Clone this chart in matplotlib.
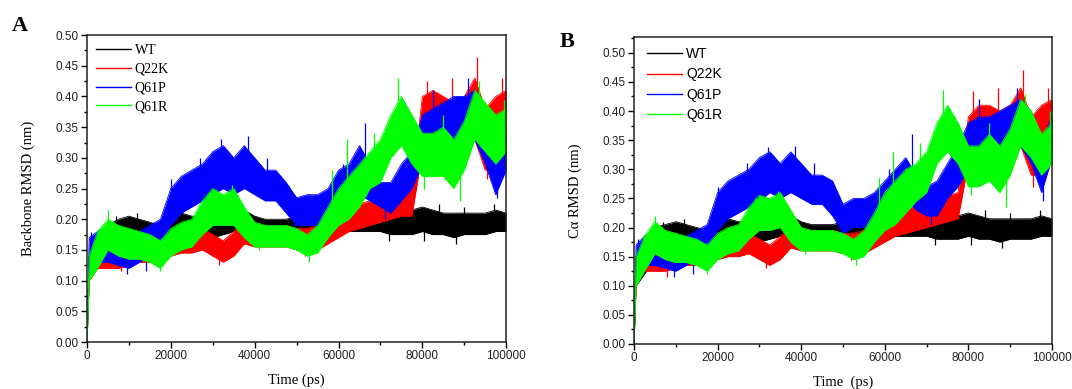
import matplotlib
matplotlib.use("Agg")
import matplotlib.pyplot as plt
import numpy as np
from matplotlib.ticker import MultipleLocator, FormatStrFormatter

# ---------------- data ----------------
time_ps = [0, 500] + list(range(2500, 100001, 2500))
series_names = ["WT", "Q22K", "Q61P", "Q61R"]
series_colors = ["#000000", "#ff0000", "#0000ff", "#00ff00"]

# Panel A: backbone RMSD band (low / high edge of the noisy trace), nm
wt_a_lo = [0, 0.10, 0.12, 0.14, 0.155, 0.155, 0.155, 0.155, 0.16, 0.165, 0.17, 0.165, 0.17, 0.17, 0.175, 0.18, 0.175, 0.17, 0.17, 0.165, 0.17, 0.17, 0.17, 0.175, 0.175, 0.18, 0.18, 0.18, 0.18, 0.18, 0.175, 0.175, 0.175, 0.18, 0.175, 0.175, 0.17, 0.175, 0.175, 0.175, 0.18, 0.18]
wt_a_hi = [0, 0.14, 0.17, 0.19, 0.20, 0.205, 0.20, 0.195, 0.19, 0.20, 0.21, 0.205, 0.205, 0.21, 0.21, 0.22, 0.215, 0.205, 0.20, 0.20, 0.20, 0.205, 0.20, 0.20, 0.205, 0.205, 0.21, 0.21, 0.21, 0.21, 0.21, 0.21, 0.215, 0.22, 0.215, 0.21, 0.21, 0.21, 0.21, 0.21, 0.215, 0.21]
q22k_a_lo = [0, 0.10, 0.12, 0.12, 0.12, 0.125, 0.13, 0.13, 0.135, 0.14, 0.145, 0.145, 0.15, 0.14, 0.13, 0.14, 0.16, 0.155, 0.155, 0.155, 0.155, 0.15, 0.15, 0.15, 0.16, 0.17, 0.18, 0.185, 0.19, 0.195, 0.20, 0.205, 0.205, 0.31, 0.32, 0.31, 0.30, 0.31, 0.33, 0.28, 0.28, 0.33]
q22k_a_hi = [0, 0.14, 0.17, 0.17, 0.165, 0.17, 0.175, 0.17, 0.17, 0.175, 0.18, 0.18, 0.185, 0.175, 0.165, 0.18, 0.20, 0.19, 0.19, 0.185, 0.19, 0.185, 0.185, 0.19, 0.205, 0.21, 0.22, 0.225, 0.23, 0.24, 0.245, 0.25, 0.25, 0.40, 0.41, 0.40, 0.39, 0.40, 0.43, 0.38, 0.40, 0.41]
q61p_a_lo = [0, 0.13, 0.13, 0.13, 0.125, 0.12, 0.13, 0.14, 0.16, 0.19, 0.21, 0.22, 0.23, 0.24, 0.25, 0.24, 0.25, 0.24, 0.23, 0.23, 0.21, 0.19, 0.19, 0.19, 0.19, 0.21, 0.23, 0.24, 0.23, 0.22, 0.21, 0.23, 0.25, 0.29, 0.30, 0.30, 0.32, 0.33, 0.33, 0.29, 0.24, 0.28]
q61p_a_hi = [0, 0.17, 0.18, 0.19, 0.18, 0.175, 0.18, 0.19, 0.20, 0.25, 0.27, 0.28, 0.29, 0.31, 0.32, 0.30, 0.32, 0.30, 0.28, 0.28, 0.26, 0.235, 0.24, 0.24, 0.25, 0.28, 0.29, 0.32, 0.29, 0.26, 0.26, 0.29, 0.31, 0.37, 0.38, 0.39, 0.40, 0.40, 0.41, 0.38, 0.32, 0.34]
q61r_a_lo = [0, 0.10, 0.12, 0.15, 0.14, 0.135, 0.135, 0.13, 0.12, 0.14, 0.15, 0.155, 0.175, 0.19, 0.19, 0.19, 0.17, 0.155, 0.155, 0.155, 0.155, 0.15, 0.14, 0.145, 0.17, 0.19, 0.20, 0.22, 0.25, 0.26, 0.30, 0.32, 0.29, 0.27, 0.27, 0.27, 0.25, 0.28, 0.33, 0.31, 0.29, 0.31]
q61r_a_hi = [0, 0.14, 0.18, 0.20, 0.19, 0.185, 0.18, 0.175, 0.165, 0.185, 0.195, 0.20, 0.23, 0.25, 0.24, 0.25, 0.22, 0.195, 0.19, 0.19, 0.19, 0.185, 0.175, 0.19, 0.22, 0.25, 0.27, 0.29, 0.31, 0.33, 0.37, 0.40, 0.37, 0.34, 0.34, 0.35, 0.33, 0.36, 0.41, 0.39, 0.37, 0.38]

# Panel B: C-alpha RMSD band, nm
wt_b_lo = [0, 0.10, 0.12, 0.145, 0.16, 0.16, 0.16, 0.16, 0.165, 0.17, 0.175, 0.17, 0.175, 0.175, 0.18, 0.185, 0.18, 0.175, 0.175, 0.17, 0.175, 0.175, 0.175, 0.18, 0.18, 0.185, 0.185, 0.185, 0.185, 0.185, 0.18, 0.18, 0.18, 0.185, 0.18, 0.18, 0.175, 0.18, 0.18, 0.18, 0.185, 0.185]
wt_b_hi = [0, 0.15, 0.17, 0.20, 0.205, 0.21, 0.205, 0.20, 0.195, 0.205, 0.215, 0.21, 0.21, 0.215, 0.215, 0.225, 0.22, 0.21, 0.205, 0.205, 0.205, 0.21, 0.205, 0.205, 0.21, 0.21, 0.215, 0.215, 0.215, 0.215, 0.215, 0.215, 0.22, 0.225, 0.22, 0.215, 0.215, 0.215, 0.215, 0.215, 0.22, 0.215]
q22k_b_lo = [0, 0.10, 0.125, 0.125, 0.125, 0.13, 0.135, 0.135, 0.14, 0.145, 0.15, 0.15, 0.155, 0.145, 0.135, 0.145, 0.165, 0.16, 0.16, 0.16, 0.16, 0.155, 0.155, 0.155, 0.165, 0.175, 0.185, 0.19, 0.195, 0.20, 0.205, 0.21, 0.215, 0.31, 0.32, 0.32, 0.31, 0.32, 0.34, 0.29, 0.29, 0.34]
q22k_b_hi = [0, 0.15, 0.175, 0.175, 0.17, 0.175, 0.18, 0.175, 0.175, 0.18, 0.185, 0.185, 0.19, 0.18, 0.17, 0.185, 0.205, 0.195, 0.195, 0.19, 0.195, 0.19, 0.19, 0.195, 0.21, 0.215, 0.225, 0.23, 0.24, 0.245, 0.25, 0.255, 0.26, 0.39, 0.41, 0.41, 0.40, 0.41, 0.44, 0.39, 0.41, 0.42]
q61p_b_lo = [0, 0.13, 0.135, 0.135, 0.13, 0.125, 0.135, 0.145, 0.165, 0.195, 0.215, 0.225, 0.235, 0.245, 0.26, 0.25, 0.26, 0.25, 0.24, 0.24, 0.22, 0.19, 0.20, 0.20, 0.20, 0.22, 0.24, 0.25, 0.23, 0.22, 0.22, 0.25, 0.27, 0.30, 0.31, 0.31, 0.32, 0.33, 0.34, 0.31, 0.26, 0.32]
q61p_b_hi = [0, 0.17, 0.185, 0.195, 0.185, 0.18, 0.185, 0.195, 0.205, 0.26, 0.28, 0.29, 0.30, 0.32, 0.33, 0.31, 0.33, 0.31, 0.29, 0.29, 0.28, 0.24, 0.25, 0.25, 0.26, 0.28, 0.30, 0.32, 0.29, 0.27, 0.28, 0.31, 0.34, 0.38, 0.39, 0.39, 0.40, 0.41, 0.42, 0.40, 0.35, 0.39]
q61r_b_lo = [0, 0.10, 0.125, 0.155, 0.145, 0.14, 0.14, 0.135, 0.125, 0.145, 0.155, 0.16, 0.18, 0.195, 0.195, 0.20, 0.175, 0.16, 0.16, 0.16, 0.16, 0.155, 0.145, 0.15, 0.175, 0.195, 0.205, 0.225, 0.245, 0.26, 0.31, 0.33, 0.31, 0.27, 0.27, 0.28, 0.26, 0.29, 0.34, 0.32, 0.29, 0.31]
q61r_b_hi = [0, 0.15, 0.185, 0.21, 0.195, 0.19, 0.185, 0.18, 0.17, 0.19, 0.20, 0.205, 0.235, 0.255, 0.25, 0.26, 0.23, 0.20, 0.195, 0.195, 0.195, 0.19, 0.18, 0.195, 0.225, 0.26, 0.28, 0.30, 0.31, 0.33, 0.38, 0.41, 0.38, 0.34, 0.34, 0.36, 0.34, 0.37, 0.42, 0.40, 0.36, 0.38]

# Isolated spikes (upward and downward excursions): (time ps, extreme value nm)
spikes_a = {
    "WT": [(7000, 0.205), (12000, 0.21), (21000, 0.215), (35000, 0.225), (60000, 0.21),
           (76000, 0.22), (84000, 0.225), (90000, 0.22), (97000, 0.225),
           (72000, 0.165), (80500, 0.165), (88000, 0.16)],
    "Q22K": [(4000, 0.18), (38000, 0.205), (68000, 0.24), (78500, 0.25), (81000, 0.425),
             (87000, 0.43), (93000, 0.465), (99000, 0.43),
             (8000, 0.115), (31500, 0.125), (52000, 0.14), (95500, 0.265)],
    "Q61P": [(1000, 0.18), (20000, 0.265), (27000, 0.30), (32000, 0.33), (38500, 0.335),
             (43000, 0.30), (61000, 0.29), (66400, 0.357), (82500, 0.41), (91000, 0.43),
             (9500, 0.11), (14000, 0.115), (49500, 0.18), (71000, 0.20), (97800, 0.235)],
    "Q61R": [(5000, 0.215), (29000, 0.245), (34500, 0.255), (58500, 0.28), (62000, 0.33),
             (68500, 0.34), (74200, 0.43), (85000, 0.37), (93500, 0.425), (99500, 0.395),
             (17500, 0.115), (41000, 0.15), (53000, 0.13), (80500, 0.25), (89000, 0.23)],
}
spikes_b = {
    "WT": [(7000, 0.21), (12000, 0.215), (21000, 0.22), (35000, 0.235), (60000, 0.215),
           (76000, 0.225), (84000, 0.23), (90000, 0.225), (97000, 0.23),
           (72000, 0.17), (80500, 0.17), (88000, 0.165)],
    "Q22K": [(4000, 0.185), (38000, 0.21), (68000, 0.245), (78500, 0.26), (81000, 0.435),
             (87000, 0.44), (93000, 0.47), (99000, 0.44),
             (8000, 0.115), (31500, 0.13), (52000, 0.145), (95500, 0.27)],
    "Q61P": [(1000, 0.18), (20000, 0.27), (27000, 0.31), (32000, 0.338), (38500, 0.34),
             (43000, 0.31), (61000, 0.30), (66400, 0.36), (82500, 0.42), (91500, 0.44),
             (9500, 0.115), (14000, 0.12), (49500, 0.185), (71000, 0.205), (97800, 0.245)],
    "Q61R": [(5000, 0.22), (29000, 0.25), (34500, 0.262), (58500, 0.285), (62000, 0.33),
             (68500, 0.345), (74000, 0.436), (85000, 0.38), (93500, 0.43), (99500, 0.40),
             (17500, 0.12), (41000, 0.155), (53000, 0.135), (80500, 0.255), (89000, 0.235)],
}

bands_a = [(wt_a_lo, wt_a_hi), (q22k_a_lo, q22k_a_hi), (q61p_a_lo, q61p_a_hi), (q61r_a_lo, q61r_a_hi)]
bands_b = [(wt_b_lo, wt_b_hi), (q22k_b_lo, q22k_b_hi), (q61p_b_lo, q61p_b_hi), (q61r_b_lo, q61r_b_hi)]

for lo, hi in bands_a + bands_b:
    assert len(lo) == len(time_ps) and len(hi) == len(time_ps)

x_ticks = [0, 20000, 40000, 60000, 80000, 100000]

# ---------------- figure ----------------
fig = plt.figure(figsize=(10.72, 3.89), dpi=100)
ax_a = fig.add_axes([0.0812, 0.1208, 0.391, 0.789])
ax_b = fig.add_axes([0.5914, 0.1157, 0.390, 0.789])

SERIF = "Liberation Serif"
SANS = "Liberation Sans"


def draw(ax, bands, spikes, ytop, ylabel, xlabel, legend_font, leg_anchor, leg_spacing):
    t = np.array(time_ps, dtype=float)
    for name, color, (lo, hi) in zip(series_names, series_colors, bands):
        lo = np.array(lo)
        hi = np.array(hi)
        ax.fill_between(t, lo, hi, color=color, linewidth=0, zorder=2)
        ax.plot(t, hi, color=color, lw=0.6, zorder=2)
        ax.plot(t, lo, color=color, lw=0.6, zorder=2)
        mid = (lo + hi) / 2
        for ts, peak in spikes[name]:
            ax.vlines(ts, np.interp(ts, t, mid), peak, color=color, lw=0.9, zorder=2)
        ax.plot([], [], color=color, lw=1.0, label=name)

    ax.set_xlim(0, 100000)
    ax.set_ylim(0, ytop)
    ax.set_xticks(x_ticks)
    ax.xaxis.set_minor_locator(MultipleLocator(10000))
    ax.yaxis.set_major_locator(MultipleLocator(0.05))
    ax.yaxis.set_minor_locator(MultipleLocator(0.025))
    ax.yaxis.set_major_formatter(FormatStrFormatter("%.2f"))
    ax.tick_params(which="both", direction="out", top=False, right=False, width=1.0)
    ax.tick_params(which="major", length=4, labelsize=8.5, pad=2)
    ax.tick_params(which="minor", length=2.5)
    for lab in ax.get_xticklabels() + ax.get_yticklabels():
        lab.set_fontfamily(SANS)
        lab.set_color("#222222")
    for sp in ax.spines.values():
        sp.set_linewidth(1.1)
        sp.set_color("#222222")
    ax.set_ylabel(ylabel, fontfamily=SERIF, fontsize=10.5, labelpad=15)
    ax.set_xlabel(xlabel, fontfamily=SERIF, fontsize=10.5, labelpad=8)
    leg = ax.legend(loc="upper left", bbox_to_anchor=leg_anchor, frameon=False,
                    handlelength=2.5, handletextpad=0.3, labelspacing=leg_spacing,
                    borderaxespad=0, prop={"family": legend_font, "size": 10})
    return leg


draw(ax_a, bands_a, spikes_a, 0.50, "Backbone RMSD (nm)", "Time (ps)", SERIF, (0.008, 0.99), 0.42)
draw(ax_b, bands_b, spikes_b, 0.527, "C\u03b1 RMSD (nm)", "Time  (ps)", SANS, (0.018, 0.985), 0.45)

fig.text(0.011, 0.92, "A", fontfamily=SERIF, fontweight="bold", fontsize=16)
fig.text(0.522, 0.88, "B", fontfamily=SERIF, fontweight="bold", fontsize=16)

fig.savefig("out.png", dpi=100)
